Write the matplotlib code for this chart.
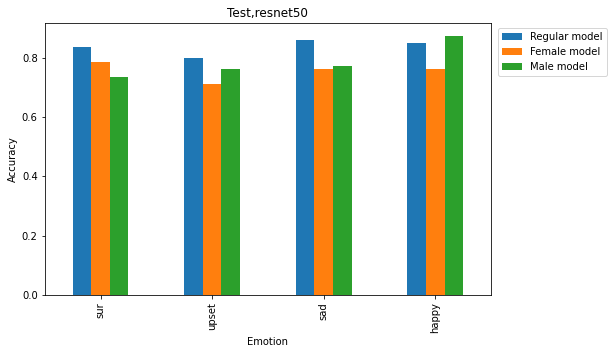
import numpy as np
import pandas as pd
import matplotlib
matplotlib.use("Agg")
import matplotlib.pyplot as plt

emotions = ["sur", "upset", "sad", "happy"]
regular = [0.837, 0.800, 0.861, 0.851]
female = [0.786, 0.712, 0.763, 0.763]
male = [0.736, 0.763, 0.773, 0.874]

df = pd.DataFrame({"Regular model": regular,
                   "Female model": female,
                   "Male model": male},
                  index=pd.Index(emotions, name="Emotion"))

fig = plt.figure(figsize=(613 / 72, 354 / 72), dpi=72)
ax = fig.add_axes([0.073, 0.1667, 0.728, 0.768])
df.plot(kind="bar", ax=ax)
ax.set_title("Test,resnet50")
ax.set_ylabel("Accuracy")
ax.legend(bbox_to_anchor=(1.005, 1), loc="upper left")

fig.savefig("out.png", dpi=72)
